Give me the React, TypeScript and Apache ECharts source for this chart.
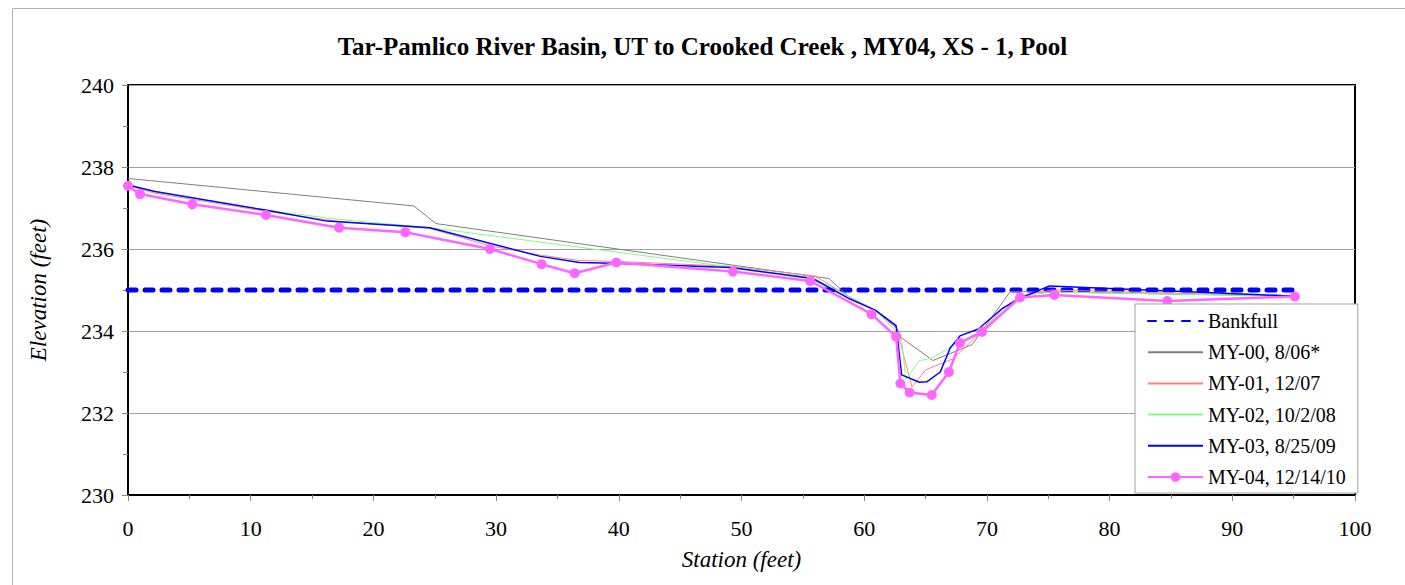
import React, { useEffect, useRef } from "react";
import * as echarts from "echarts";

const titleText = "Tar-Pamlico River Basin, UT to Crooked Creek , MY04, XS - 1, Pool";
const xAxisName = "Station (feet)";
const yAxisName = "Elevation (feet)";
const seriesNames = ["Bankfull", "MY-00, 8/06*", "MY-01, 12/07", "MY-02, 10/2/08", "MY-03, 8/25/09", "MY-04, 12/14/10"];

const bankfull: number[][] = [[0, 235.0], [95.1, 235.0]];

const my00: number[][] = [
  [0, 237.72], [23.3, 237.05], [25.1, 236.62], [57.1, 235.28], [58.7, 234.85], [60.9, 234.5],
  [62.7, 234.05], [63.1, 233.82], [65.6, 233.28], [68.8, 233.67], [71.9, 234.96], [75.5, 234.95], [95.1, 234.85],
];

const my01: number[][] = [
  [0, 237.55], [2.2, 237.36], [11.2, 236.92], [17.2, 236.67], [22.6, 236.55], [24.6, 236.5], [29.5, 236.08],
  [33.6, 235.85], [36.8, 235.72], [39.5, 235.7], [49.1, 235.58], [56.0, 235.34], [58.7, 234.85], [60.9, 234.5],
  [62.6, 234.1], [63.9, 232.63], [65.0, 233.05], [67.3, 233.33], [69.6, 234.0], [71.3, 234.55], [72.7, 234.85],
  [75.3, 235.0], [95.1, 234.85],
];

const my02: number[][] = [
  [0, 237.55], [2.2, 237.4], [11.2, 236.95], [17.2, 236.72], [24.6, 236.52], [55.8, 235.3], [58.7, 234.85],
  [60.9, 234.5], [62.6, 234.0], [63.0, 233.9], [63.4, 232.82], [64.5, 233.28], [65.5, 233.33], [67.5, 233.7],
  [69.6, 234.0], [71.3, 234.5], [72.7, 234.85], [75.3, 234.95], [95.1, 234.85],
];

const my03: number[][] = [
  [0, 237.56], [2.2, 237.4], [11.2, 236.95], [16.2, 236.68], [22.2, 236.57], [24.6, 236.52], [33.6, 235.82],
  [36.8, 235.67], [39.5, 235.65], [49.1, 235.55], [55.8, 235.28], [58.7, 234.8], [60.9, 234.51], [62.6, 234.13],
  [63.05, 232.93], [64.5, 232.75], [65.1, 232.76], [66.2, 233.0], [67.0, 233.58], [67.8, 233.88], [69.3, 234.05],
  [71.3, 234.56], [72.7, 234.8], [75.1, 235.1], [95.1, 234.85],
];

const my04: number[][] = [
  [0, 237.54], [0.98, 237.34], [5.24, 237.09], [11.24, 236.83], [17.2, 236.52], [22.6, 236.41], [29.5, 236.0],
  [33.7, 235.63], [36.4, 235.41], [39.8, 235.67], [49.3, 235.45], [55.6, 235.22], [60.6, 234.41], [62.6, 233.86],
  [62.95, 232.72], [63.7, 232.5], [65.5, 232.44], [66.9, 233.0], [67.8, 233.71], [69.6, 233.98], [72.7, 234.82],
  [75.5, 234.88], [84.7, 234.73], [95.1, 234.84],
];

const FONT = "Liberation Serif";

export default function App() {
  const ref = useRef<HTMLDivElement>(null);
  useEffect(() => {
    if (!ref.current) return;
    const chart = echarts.init(ref.current, undefined, { renderer: "svg" });
    const thin = (name: string, data: number[][], color: string, width: number) => ({
      name,
      type: "line",
      data,
      showSymbol: false,
      symbol: "none",
      lineStyle: { color, width },
      itemStyle: { color },
    });
    const hidden = { itemStyle: { opacity: 0 } };
    chart.setOption({
      animation: false,
      backgroundColor: "#fff",
      textStyle: { fontFamily: FONT },
      title: {
        text: titleText,
        left: "center",
        top: 29,
        textStyle: { fontFamily: FONT, fontSize: 25, fontWeight: "bold", color: "#000" },
      },
      graphic: [
        {
          type: "rect",
          shape: { x: 12.5, y: 8.5, width: 1500, height: 700 },
          style: { fill: "none", stroke: "#b4b4b4", lineWidth: 1 },
          silent: true,
        },
      ],
      grid: {
        left: 128,
        top: 85,
        right: 50,
        bottom: 90,
        show: true,
        borderColor: "#000",
        borderWidth: 2,
        backgroundColor: "#fff",
      },
      legend: {
        orient: "vertical",
        left: 1135,
        top: 304,
        padding: [6, 12, 5, 12],
        itemWidth: 55,
        itemHeight: 12,
        itemGap: 9.2,
        backgroundColor: "#fff",
        borderColor: "#a0a0a0",
        borderWidth: 1,
        textStyle: { fontFamily: FONT, fontSize: 20, color: "#000", lineHeight: 22 },
        data: [
          { name: seriesNames[0], ...hidden },
          { name: seriesNames[1], ...hidden },
          { name: seriesNames[2], ...hidden },
          { name: seriesNames[3], ...hidden },
          { name: seriesNames[4], ...hidden },
          { name: seriesNames[5] },
        ],
      },
      xAxis: {
        type: "value",
        min: 0,
        max: 100,
        interval: 10,
        name: xAxisName,
        nameLocation: "middle",
        nameGap: 53,
        nameTextStyle: { fontFamily: FONT, fontSize: 23, fontStyle: "italic", color: "#000" },
        axisLine: { show: true, onZero: false, lineStyle: { color: "#000", width: 2 } },
        axisTick: { show: true, length: 6, lineStyle: { color: "#888" } },
        minorTick: { show: true, splitNumber: 2, length: 4, lineStyle: { color: "#888" } },
        splitLine: { show: false },
        axisLabel: { fontFamily: FONT, fontSize: 22, color: "#000", margin: 22 },
      },
      yAxis: {
        type: "value",
        min: 230,
        max: 240,
        interval: 2,
        name: yAxisName,
        nameLocation: "middle",
        nameGap: 78,
        nameTextStyle: { fontFamily: FONT, fontSize: 23, fontStyle: "italic", color: "#000" },
        axisLine: { show: true, onZero: false, lineStyle: { color: "#000", width: 2 } },
        axisTick: { show: true, length: 6, lineStyle: { color: "#888" } },
        minorTick: { show: true, splitNumber: 2, length: 5, lineStyle: { color: "#888" } },
        splitLine: { show: true, lineStyle: { color: "#a0a0a0", width: 1 } },
        axisLabel: { fontFamily: FONT, fontSize: 22, color: "#000", margin: 14 },
      },
      series: [
        {
          name: seriesNames[0],
          type: "line",
          data: bankfull,
          showSymbol: false,
          symbol: "none",
          z: 3,
          lineStyle: { color: "#0000ff", width: 5, type: [8, 9], cap: "round" },
          itemStyle: { color: "#0000ff" },
        },
        thin(seriesNames[1], my00, "#7f7f7f", 1),
        thin(seriesNames[2], my01, "#ff8080", 1),
        thin(seriesNames[3], my02, "#80ff80", 1),
        thin(seriesNames[4], my03, "#0000ff", 1.5),
        {
          name: seriesNames[5],
          type: "line",
          data: my04,
          symbol: "circle",
          symbolSize: 10,
          showSymbol: true,
          lineStyle: { color: "#ff66ff", width: 2.5 },
          itemStyle: { color: "#ff66ff" },
        },
      ],
    });
    return () => chart.dispose();
  }, []);
  return <div ref={ref} style={{ position: "fixed", left: 0, top: 0, width: 1405, height: 585 }} />;
}
